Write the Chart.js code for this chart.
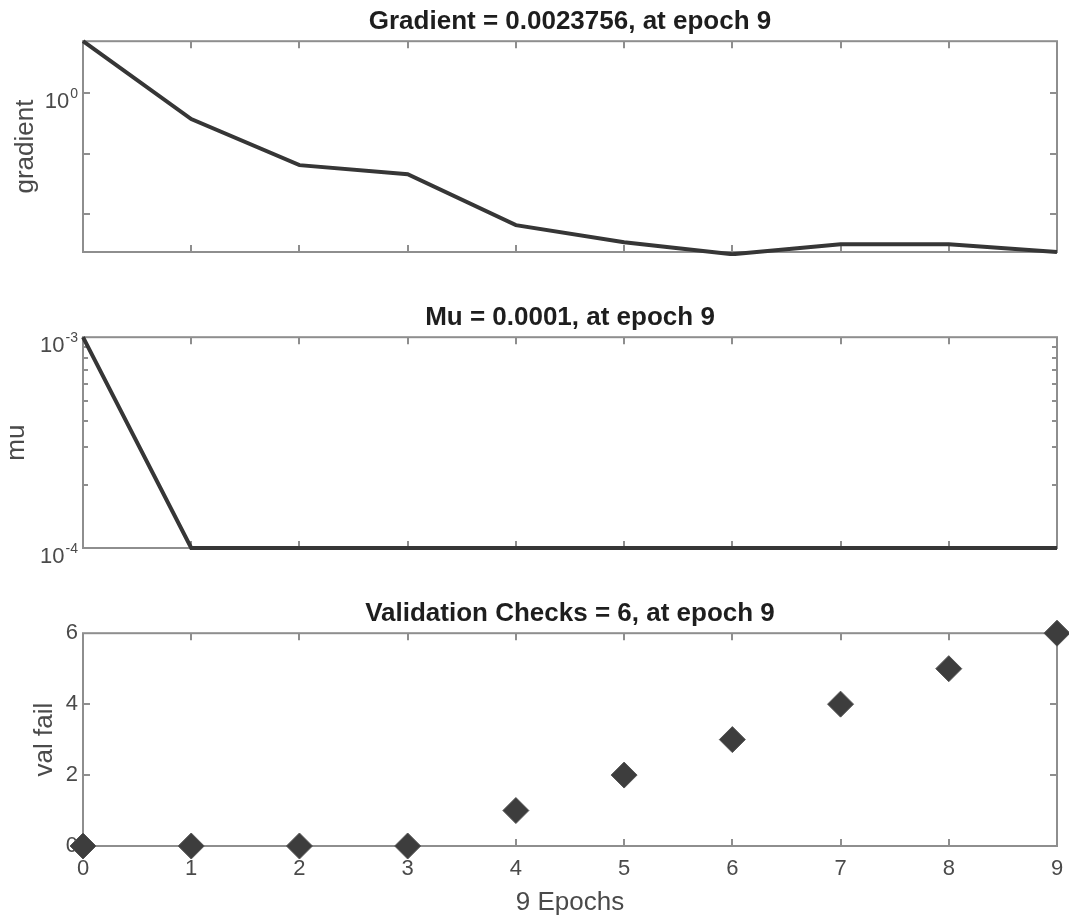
<!DOCTYPE html>
<html>
<head>
<meta charset="utf-8">
<script src="https://cdn.jsdelivr.net/npm/chart.js@4.4.1/dist/chart.umd.min.js"></script>
<style>
  html, body { margin: 0; padding: 0; background: #fff; }
  #wrap { position: relative; width: 1069px; height: 918px; overflow: hidden; }
  canvas { position: absolute; left: 0; }
</style>
</head>
<body>
<div id="wrap">
  <canvas id="gradient_chart" width="1069" height="270" style="top:0px"></canvas>
  <canvas id="mu_chart" width="1069" height="270" style="top:296px"></canvas>
  <canvas id="valfail_chart" width="1069" height="326" style="top:592px"></canvas>
</div>
<script>
// data
const epochs = [0, 1, 2, 3, 4, 5, 6, 7, 8, 9];
const gradientValues = [7.2, 0.372, 0.0646, 0.0458, 0.0066, 0.00344, 0.00218, 0.00319, 0.0032, 0.0023756];
const muValues = [0.001, 0.0001, 0.0001, 0.0001, 0.0001, 0.0001, 0.0001, 0.0001, 0.0001, 0.0001];
const valFailValues = [0, 0, 0, 0, 1, 2, 3, 4, 5, 6];

const titles = ["Gradient = 0.0023756, at epoch 9", "Mu = 0.0001, at epoch 9", "Validation Checks = 6, at epoch 9"];
const gradientTicks = [1, 0.1, 0.01];
const gradientLabels = [[1, "0"]];
const muTicks = [0.0002, 0.0003, 0.0004, 0.0005, 0.0006, 0.0007, 0.0008, 0.0009];
const muLabels = [[0.001, "-3"], [0.0001, "-4"]];
const valFailTicks = [0, 2, 4, 6];

const fontName = '"Liberation Sans", Arial, Helvetica, sans-serif';
const axisColor = "#8e8e8e";
const textColor = "#4a4a4a";
const lineColor = "#363636";

Chart.defaults.font.family = fontName;

function to_points(values){
  return epochs.map((e, i) => ({x: e, y: values[i]}));
}

// matlab style box with inward ticks, plus 10^n labels for the log axes
function matlabBox(yTicks, logLabels, tickLen){
  return {
    id: "matlabBox",
    beforeDatasetsDraw(chart){
      const ctx = chart.ctx, a = chart.chartArea;
      const xs = chart.scales.x, ys = chart.scales.y;
      ctx.save();
      ctx.strokeStyle = axisColor;
      ctx.lineWidth = 2;
      ctx.strokeRect(a.left, a.top, a.right - a.left, a.bottom - a.top);
      ctx.beginPath();
      epochs.slice(1, -1).forEach(e => {
        const x = Math.round(xs.getPixelForValue(e));
        ctx.moveTo(x, a.top); ctx.lineTo(x, a.top + 7);
        ctx.moveTo(x, a.bottom); ctx.lineTo(x, a.bottom - 7);
      });
      yTicks.forEach(v => {
        const y = Math.round(ys.getPixelForValue(v));
        ctx.moveTo(a.left, y); ctx.lineTo(a.left + tickLen, y);
        ctx.moveTo(a.right, y); ctx.lineTo(a.right - tickLen, y);
      });
      ctx.stroke();

      ctx.fillStyle = textColor;
      ctx.textBaseline = "alphabetic";
      logLabels.forEach(l => {
        const y = ys.getPixelForValue(l[0]);
        ctx.font = "14px " + fontName;
        const w = ctx.measureText(l[1]).width;
        ctx.textAlign = "left";
        ctx.fillText(l[1], a.left - 5 - w, y + 5);
        ctx.font = "22px " + fontName;
        ctx.textAlign = "right";
        ctx.fillText("10", a.left - 6 - w, y + 15);
      });
      ctx.restore();
    }
  };
}

function make_options(title, yScale, yTitle, yTitlePad, xShown){
  yScale.afterFit = s => { s.width = 83; };
  yScale.border = {display: false};
  yScale.grid = {display: false, drawTicks: false};
  yScale.title = {display: true, text: yTitle, color: textColor, font: {size: 26}, padding: {top: yTitlePad, bottom: 0}};

  const xScale = {
    type: "linear", min: 0, max: 9,
    display: xShown,
    border: {display: false},
    grid: {display: false, drawTicks: false},
    ticks: {stepSize: 1, autoSkip: false, color: textColor, font: {size: 22}, padding: 10, maxRotation: 0},
    title: {display: true, text: "9 Epochs", color: textColor, font: {size: 26}, padding: {top: 0, bottom: 0}}
  };
  if (xShown) {
    xScale.afterFit = s => { s.height = 72; s.paddingLeft = 0; s.paddingRight = 0; };
  }

  return {
    responsive: false,
    animation: false,
    layout: {autoPadding: false, padding: {left: 0, right: 12, top: 0, bottom: xShown ? 0 : 18}},
    plugins: {
      legend: {display: false},
      tooltip: {enabled: false},
      title: {display: true, fullSize: false, text: title, color: "#1e1e1e", font: {size: 26, weight: "bold"}, padding: {top: 6, bottom: 4}}
    },
    scales: {x: xScale, y: yScale}
  };
}

function render_line_chart(id, values, options, plugin){
  return new Chart(document.getElementById(id).getContext("2d"), {
    type: "line",
    data: {
      datasets: [{
        data: to_points(values),
        borderColor: lineColor,
        borderWidth: 4,
        pointRadius: 0,
        tension: 0,
        clip: 4
      }]
    },
    options: options,
    plugins: [plugin]
  });
}

render_line_chart("gradient_chart", gradientValues,
  make_options(titles[0], {type: "logarithmic", min: 0.0023756, max: 7.2, ticks: {display: false}}, "gradient", 10, false),
  matlabBox(gradientTicks, gradientLabels, 7));

render_line_chart("mu_chart", muValues,
  make_options(titles[1], {type: "logarithmic", min: 0.0001, max: 0.001, ticks: {display: false}}, "mu", 1, false),
  matlabBox(muTicks, muLabels, 5));

new Chart(document.getElementById("valfail_chart").getContext("2d"), {
  type: "scatter",
  data: {
    datasets: [{
      data: to_points(valFailValues),
      pointStyle: "rectRot",
      pointRadius: 13,
      backgroundColor: "#3d3d3d",
      borderColor: "#555555",
      borderWidth: 1,
      showLine: false,
      clip: false
    }]
  },
  options: make_options(titles[2], {
    type: "linear", min: 0, max: 6,
    ticks: {stepSize: 2, color: textColor, font: {size: 22}, padding: 5, callback: v => valFailTicks.includes(v) ? v : ""}
  }, "val fail", 29, true),
  plugins: [matlabBox([2, 4], [], 7)]
});
</script>
</body>
</html>
